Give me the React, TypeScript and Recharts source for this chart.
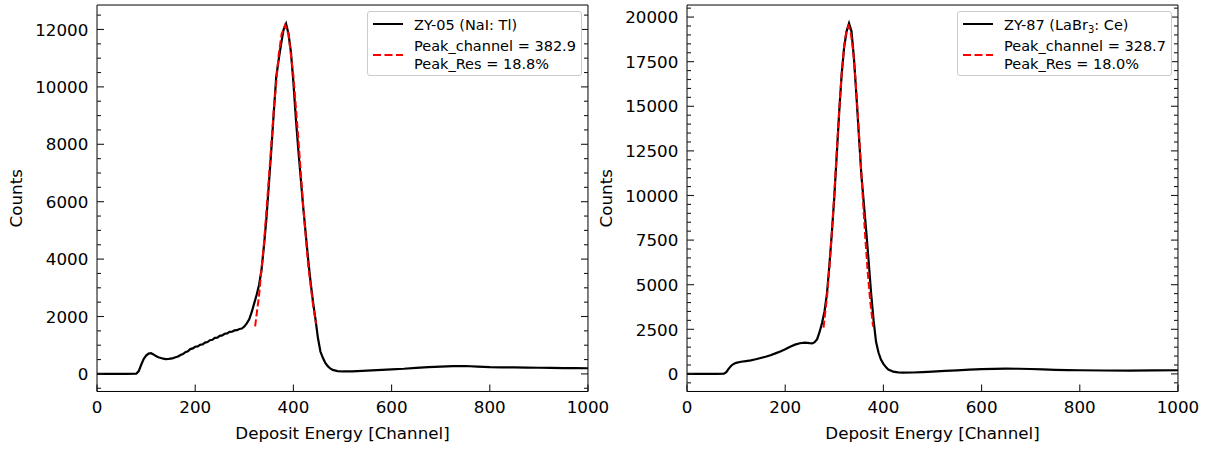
import React from 'react';
import { LineChart, Line, XAxis, YAxis, Legend } from 'recharts';

const FONT = '"DejaVu Sans", "Liberation Sans", sans-serif';

// ---------- axis ticks ----------
const xMajorTicks = [0, 200, 400, 600, 800, 1000];
const xMinorTicks = [50, 100, 150, 250, 300, 350, 450, 500, 550, 650, 700, 750, 850, 900, 950];

const naiYMajorTicks = [0, 2000, 4000, 6000, 8000, 10000, 12000];
const naiYMinorTicks = [-500, 500, 1000, 1500, 2500, 3000, 3500, 4500, 5000, 5500, 6500, 7000, 7500, 8500, 9000, 9500, 10500, 11000, 11500, 12500];

const labrYMajorTicks = [0, 2500, 5000, 7500, 10000, 12500, 15000, 17500, 20000];
const labrYMinorTicks = [-500, 500, 1000, 1500, 2000, 3000, 3500, 4000, 4500, 5500, 6000, 6500, 7000, 8000, 8500, 9000, 9500, 10500, 11000, 11500, 12000, 13000, 13500, 14000, 14500, 15500, 16000, 16500, 17000, 18000, 18500, 19000, 19500, 20500];

// ---------- ZY-05 (NaI:Tl) spectrum ----------
const naiChannels = [
  0, 20, 40, 60, 80, 85, 90, 95, 100, 105,
  110, 115, 120, 125, 130, 135, 140, 145, 150, 155,
  160, 165, 170, 175, 180, 185, 190, 195, 200, 205,
  210, 215, 220, 225, 230, 235, 240, 245, 250, 255,
  260, 265, 270, 275, 280, 285, 290, 295, 300, 305,
  310, 315, 320, 325, 330, 335, 340, 345, 350, 355,
  360, 365, 370, 375, 380, 385, 390, 395, 400, 405,
  410, 415, 420, 425, 430, 435, 440, 445, 450, 455,
  460, 465, 470, 475, 480, 490, 500, 520, 540, 560,
  580, 600, 625, 650, 675, 700, 725, 750, 775, 800,
  825, 850, 875, 900, 925, 950, 975, 1000,
];
const naiCounts = [
  0, 0, 0, 0, 5, 100, 320, 520, 640, 710,
  720, 680, 620, 580, 555, 530, 515, 520, 535, 550,
  580, 605, 660, 690, 760, 790, 865, 890, 945, 960,
  1015, 1030, 1090, 1110, 1175, 1190, 1255, 1265, 1325, 1340,
  1400, 1410, 1465, 1470, 1515, 1525, 1565, 1580, 1650, 1760,
  1900, 2150, 2450, 2750, 3100, 3620, 4450, 5400, 6600, 7800,
  9100, 10350, 10950, 11500, 12000, 12200, 11850, 11200, 10150, 8900,
  7800, 6800, 5800, 4900, 4000, 3200, 2500, 1900, 1250, 780,
  560, 380, 270, 190, 140, 100, 85, 90, 105, 120,
  140, 160, 180, 210, 235, 255, 270, 275, 255, 235,
  225, 225, 220, 215, 210, 205, 200, 198,
];
const naiFitChannels = [322, 330, 340, 350, 360, 370, 376, 383, 390, 400, 410, 420, 430, 440, 446];
const naiFitCounts = [1660, 2730, 4550, 6820, 9180, 11120, 11840, 12150, 11830, 10390, 8210, 5830, 3800, 2400, 1750];

// ---------- ZY-87 (LaBr3:Ce) spectrum ----------
const labrChannels = [
  0, 20, 40, 60, 75, 80, 85, 90, 95, 100,
  110, 120, 130, 140, 150, 160, 170, 180, 190, 200,
  210, 220, 230, 240, 250, 255, 260, 265, 270, 275,
  280, 285, 290, 295, 300, 305, 310, 315, 320, 325,
  330, 335, 340, 345, 350, 355, 360, 365, 370, 375,
  380, 385, 390, 395, 400, 405, 410, 420, 430, 440,
  460, 480, 500, 525, 550, 575, 600, 625, 650, 675,
  700, 725, 750, 775, 800, 850, 900, 950, 1000,
];
const labrCounts = [
  0, 0, 0, 0, 10, 100, 300, 460, 560, 620,
  680, 720, 760, 820, 890, 960, 1050, 1150, 1260, 1380,
  1520, 1640, 1720, 1750, 1720, 1710, 1780, 1950, 2350, 2850,
  3500, 4500, 6100, 7900, 9900, 12300, 14700, 16800, 18300, 19200,
  19650, 19200, 17700, 15600, 13400, 11200, 9600, 8000, 6300, 4500,
  3000, 1800, 1200, 800, 560, 380, 250, 130, 85, 75,
  80, 100, 130, 165, 200, 240, 265, 285, 295, 290,
  275, 250, 230, 215, 205, 190, 185, 195, 205,
];
const labrFitChannels = [278, 285, 290, 295, 300, 305, 310, 315, 320, 325, 329, 333, 338, 343, 348, 353, 358, 363, 368, 373, 379];
const labrFitCounts = [2600, 4280, 5940, 7920, 10140, 12490, 14770, 16800, 18370, 19290, 19500, 19220, 18210, 16580, 14510, 12200, 9870, 7660, 5720, 4110, 2650];

const toPoints = (xs: number[], ys: number[]) => xs.map((x, i) => ({ x, y: ys[i] }));

const naiData = toPoints(naiChannels, naiCounts);
const naiFit = toPoints(naiFitChannels, naiFitCounts);
const labrData = toPoints(labrChannels, labrCounts);
const labrFit = toPoints(labrFitChannels, labrFitCounts);

// ---------- tick styling ----------
const MAJOR_LEN = 7;
const MINOR_LEN = 4;
const THIN = 0.01; // axes occupy (almost) no space; the plot margins carry the layout
const TICK_FONT = 16.7;
const TICK_LINE = { stroke: '#1a1a1a', strokeWidth: 1.1 };
const AXIS_LINE = { stroke: '#000', strokeWidth: 1 };

const NoLabel = () => <g />;

const BottomLabel = (props: any) => {
  const { x, y, payload } = props;
  return (
    <text x={x} y={y + 21.8} textAnchor="middle" fontSize={TICK_FONT} fontFamily={FONT} fill="#000">
      {payload.value}
    </text>
  );
};

const LeftLabel = (props: any) => {
  const { x, y, payload } = props;
  return (
    <text x={x - 8.7} y={y + 6.2} textAnchor="end" fontSize={TICK_FONT} fontFamily={FONT} fill="#000">
      {payload.value}
    </text>
  );
};

// ---------- legend ----------
const LEGEND_FONT = 14.5;

const LegendBox = ({ title, peakLine, resLine }: { title: React.ReactNode; peakLine: string; resLine: string }) => (
  <div
    style={{
      width: 215,
      height: 65,
      boxSizing: 'border-box',
      border: '1px solid #cccccc',
      borderRadius: 3,
      background: 'rgba(255,255,255,0.8)',
    }}
  >
    <svg width={213} height={63} style={{ display: 'block' }}>
      <line x1={5} x2={35} y1={12} y2={12} stroke="#000" strokeWidth={2} />
      <text x={46} y={18} fontSize={LEGEND_FONT} fontFamily={FONT} fill="#000">
        {title}
      </text>
      <line x1={5} x2={35} y1={43} y2={43} stroke="#ff0000" strokeWidth={2} strokeDasharray="8 3.5" />
      <text x={46} y={39} fontSize={LEGEND_FONT} fontFamily={FONT} fill="#000">
        {peakLine}
      </text>
      <text x={46} y={57.3} fontSize={LEGEND_FONT} fontFamily={FONT} fill="#000">
        {resLine}
      </text>
    </svg>
  </div>
);

// ---------- chart ----------
type ChartProps = {
  width: number;
  marginRight: number;
  data: { x: number; y: number }[];
  fit: { x: number; y: number }[];
  yDomain: [number, number];
  yMajor: number[];
  yMinor: number[];
  legend: React.ReactNode;
};

const X_DOMAIN: [number, number] = [0, 1000];

const SpectrumChart = ({ width, marginRight, data, fit, yDomain, yMajor, yMinor, legend }: ChartProps) => (
  <LineChart width={width} height={450} margin={{ top: 5, right: marginRight, bottom: 58.5, left: 97 }}>
    {/* bottom axis: major ticks + labels */}
    <XAxis
      xAxisId="bottom"
      dataKey="x"
      type="number"
      orientation="bottom"
      domain={X_DOMAIN}
      allowDataOverflow
      ticks={xMajorTicks}
      interval={0}
      tickSize={-MAJOR_LEN}
      tickMargin={MAJOR_LEN}
      tickLine={TICK_LINE}
      tick={BottomLabel}
      axisLine={AXIS_LINE}
      height={THIN}
      label={{
        content: (p: any) => {
          const vb = p.viewBox;
          return (
            <text x={vb.x + vb.width / 2} y={vb.y + 47.5} textAnchor="middle" fontSize={TICK_FONT} fontFamily={FONT} fill="#000">
              Deposit Energy [Channel]
            </text>
          );
        },
      }}
    />
    {/* bottom axis: minor ticks */}
    <XAxis
      xAxisId="bottomMinor"
      type="number"
      orientation="bottom"
      domain={X_DOMAIN}
      allowDataOverflow
      ticks={xMinorTicks}
      interval={0}
      tickSize={-MINOR_LEN}
      tickMargin={0}
      tickLine={TICK_LINE}
      tick={NoLabel}
      axisLine={false}
      height={THIN}
    />
    {/* top axis */}
    <XAxis
      xAxisId="top"
      type="number"
      orientation="top"
      domain={X_DOMAIN}
      allowDataOverflow
      ticks={xMajorTicks}
      interval={0}
      tickSize={-MAJOR_LEN}
      tickMargin={0}
      tickLine={TICK_LINE}
      tick={NoLabel}
      axisLine={AXIS_LINE}
      height={THIN}
    />
    <XAxis
      xAxisId="topMinor"
      type="number"
      orientation="top"
      domain={X_DOMAIN}
      allowDataOverflow
      ticks={xMinorTicks}
      interval={0}
      tickSize={-MINOR_LEN}
      tickMargin={0}
      tickLine={TICK_LINE}
      tick={NoLabel}
      axisLine={false}
      height={THIN}
    />
    {/* left axis */}
    <YAxis
      yAxisId="left"
      type="number"
      orientation="left"
      domain={yDomain}
      allowDataOverflow
      ticks={yMajor}
      interval={0}
      tickSize={-MAJOR_LEN}
      tickMargin={MAJOR_LEN}
      tickLine={TICK_LINE}
      tick={LeftLabel}
      axisLine={AXIS_LINE}
      width={THIN}
      label={{
        content: (p: any) => {
          const vb = p.viewBox;
          const cx = vb.x + vb.width - 75;
          const cy = vb.y + vb.height / 2;
          return (
            <text x={cx} y={cy} textAnchor="middle" fontSize={TICK_FONT} fontFamily={FONT} fill="#000" transform={`rotate(-90, ${cx}, ${cy})`}>
              Counts
            </text>
          );
        },
      }}
    />
    <YAxis
      yAxisId="leftMinor"
      type="number"
      orientation="left"
      domain={yDomain}
      allowDataOverflow
      ticks={yMinor}
      interval={0}
      tickSize={-MINOR_LEN}
      tickMargin={0}
      tickLine={TICK_LINE}
      tick={NoLabel}
      axisLine={false}
      width={THIN}
    />
    {/* right axis */}
    <YAxis
      yAxisId="right"
      type="number"
      orientation="right"
      domain={yDomain}
      allowDataOverflow
      ticks={yMajor}
      interval={0}
      tickSize={-MAJOR_LEN}
      tickMargin={0}
      tickLine={TICK_LINE}
      tick={NoLabel}
      axisLine={AXIS_LINE}
      width={THIN}
    />
    <YAxis
      yAxisId="rightMinor"
      type="number"
      orientation="right"
      domain={yDomain}
      allowDataOverflow
      ticks={yMinor}
      interval={0}
      tickSize={-MINOR_LEN}
      tickMargin={0}
      tickLine={TICK_LINE}
      tick={NoLabel}
      axisLine={false}
      width={THIN}
    />
    <Line
      xAxisId="bottom"
      yAxisId="left"
      data={data}
      dataKey="y"
      type="linear"
      stroke="#000"
      strokeWidth={2.2}
      dot={false}
      activeDot={false}
      isAnimationActive={false}
    />
    <Line
      xAxisId="bottom"
      yAxisId="left"
      data={fit}
      dataKey="y"
      type="linear"
      stroke="#ff0000"
      strokeWidth={2}
      strokeDasharray="7 3"
      dot={false}
      activeDot={false}
      isAnimationActive={false}
    />
    <Legend
      layout="vertical"
      align="center"
      verticalAlign="middle"
      wrapperStyle={{ left: 367, top: 11, width: 215, height: 65 }}
      content={() => legend}
    />
  </LineChart>
);

export default function App() {
  return (
    <div style={{ position: 'absolute', left: 0, top: 0, width: 1215, height: 450, background: '#fff' }}>
      <div style={{ position: 'absolute', left: 0, top: 0 }}>
        <SpectrumChart
          width={620}
          marginRight={32}
          data={naiData}
          fit={naiFit}
          yDomain={[-612, 12852]}
          yMajor={naiYMajorTicks}
          yMinor={naiYMinorTicks}
          legend={<LegendBox title="ZY-05 (NaI: Tl)" peakLine="Peak_channel = 382.9" resLine="Peak_Res = 18.8%" />}
        />
      </div>
      <div style={{ position: 'absolute', left: 590, top: 0 }}>
        <SpectrumChart
          width={625}
          marginRight={37}
          data={labrData}
          fit={labrFit}
          yDomain={[-985, 20675]}
          yMajor={labrYMajorTicks}
          yMinor={labrYMinorTicks}
          legend={
            <LegendBox
              title={
                <>
                  <tspan>ZY-87 (LaBr</tspan>
                  <tspan fontSize={10} dy={3}>3</tspan>
                  <tspan dy={-3}>: Ce)</tspan>
                </>
              }
              peakLine="Peak_channel = 328.7"
              resLine="Peak_Res = 18.0%"
            />
          }
        />
      </div>
    </div>
  );
}
